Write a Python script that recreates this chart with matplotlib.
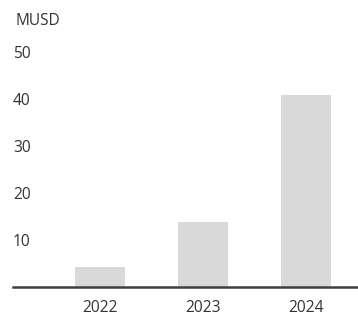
import numpy as np
import matplotlib
matplotlib.use('Agg')
import matplotlib.pyplot as plt

plt.rcParams['font.family'] = ['Open Sans', 'DejaVu Sans']

# data
years = ['2022', '2023', '2024']
values = [4.2, 13.9, 41.0]
yticks = [10, 20, 30, 40, 50]
unit = 'MUSD'

W, H = 358, 315
fig = plt.figure(figsize=(W / 100, H / 100), dpi=100)

# axes box in pixels: left 13, right 358, baseline y=287
left, right, base, top = 13, 358, 287, 6
ax = fig.add_axes([left / W, (H - base) / H, (right - left) / W, (base - top) / H])

x = np.arange(len(years))
ax.bar(x, values, width=0.485, color='#d9d9d9', zorder=1)

px = 103.0  # pixels per category
ax.set_xlim(-(100 - left) / px, (right - 100) / px)
ax.set_ylim(0, (base - top) / 4.69)

ax.set_xticks(x)
ax.set_xticklabels(years)
ax.set_yticks(yticks)
ax.set_yticklabels([str(v) for v in yticks])
for lab in ax.get_yticklabels():
    lab.set_ha('left')

ax.tick_params(axis='x', length=0, pad=9.5, labelsize=11.2, colors='#333333')
ax.tick_params(axis='y', length=0, pad=0, labelsize=11.2, colors='#333333')

for s in ['top', 'right', 'left']:
    ax.spines[s].set_visible(False)
ax.spines['bottom'].set_color('#404040')
ax.spines['bottom'].set_linewidth(1.8)

ax.text(0.008, 56.8, unit, transform=ax.get_yaxis_transform(), ha='left', va='center',
        fontsize=11.2, color='#333333')

fig.savefig('out.png', dpi=100)
